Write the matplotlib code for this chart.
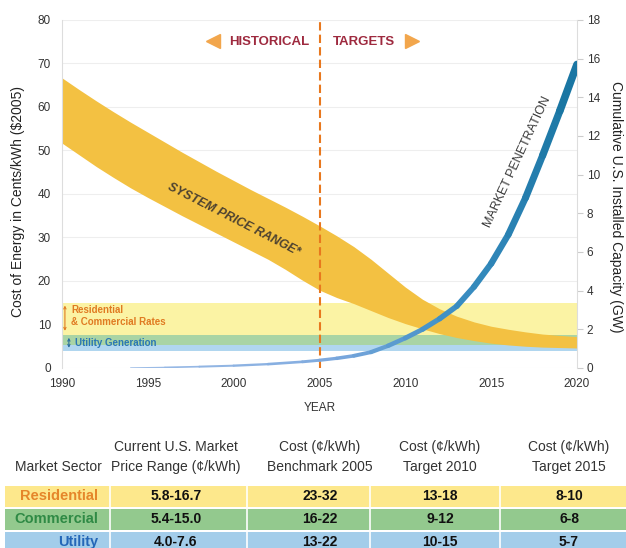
import numpy as np
import matplotlib
matplotlib.use("Agg")
import matplotlib.pyplot as plt
from matplotlib.collections import LineCollection
from matplotlib.colors import LinearSegmentedColormap
from matplotlib.patches import Rectangle

plt.rcParams["font.family"] = ["Liberation Sans Narrow", "Liberation Sans", "DejaVu Sans"]

W, H = 626, 548

# system price range, cents/kWh ($2005)
price_years = list(range(1990, 2021))
price_high = [66.7, 64.0, 61.4, 58.9, 56.5, 54.2, 51.9, 49.6, 47.4, 45.2,
              43.1, 41.0, 39.0, 37.0, 34.9, 32.7, 30.4, 27.9, 25.0, 21.8,
              18.6, 15.8, 13.6, 11.9, 10.6, 9.6, 8.9, 8.3, 7.8, 7.5, 7.2]
price_low = [51.7, 49.0, 46.3, 43.8, 41.4, 39.2, 37.1, 35.0, 33.0, 31.0,
             29.0, 27.0, 25.0, 22.7, 20.2, 17.9, 16.2, 14.8, 13.2, 11.6,
             10.2, 9.0, 7.9, 7.0, 6.3, 5.7, 5.3, 5.0, 4.8, 4.7, 4.6]

# retail rate bands, cents/kWh
res_com_rates = (5.4, 15.0)
utility_rates = (4.0, 7.6)

# cumulative installed capacity, GW
mp_years = [1994, 1996, 1998, 2000, 2002, 2004, 2005, 2006, 2007, 2008, 2009,
            2010, 2011, 2012, 2013, 2014, 2015, 2016, 2017, 2018, 2019, 2020]
mp_gw = [0.0, 0.03, 0.07, 0.12, 0.2, 0.32, 0.4, 0.5, 0.63, 0.82, 1.15,
         1.55, 2.0, 2.55, 3.2, 4.2, 5.4, 6.9, 8.8, 11.0, 13.3, 15.7]

# table below the chart
table_head1 = ["", "Current U.S. Market", "Cost (¢/kWh)", "Cost (¢/kWh)", "Cost (¢/kWh)"]
table_head2 = ["Market Sector", "Price Range (¢/kWh)", "Benchmark 2005", "Target 2010", "Target 2015"]
sectors = ["Residential", "Commercial", "Utility"]
market_range = ["5.8-16.7", "5.4-15.0", "4.0-7.6"]
bench_2005 = ["23-32", "16-22", "13-22"]
target_2010 = ["13-18", "9-12", "10-15"]
target_2015 = ["8-10", "6-8", "5-7"]

sector_text = ["#e5862a", "#2f8a45", "#2467b8"]
sector_fill = ["#fde88c", "#93c98e", "#a3cdea"]


def fx(x):
    return x / W


def fy(y):
    return 1 - y / H


fig = plt.figure(figsize=(W / 100, H / 100), dpi=100)
ax = fig.add_axes([fx(62), fy(368), (577 - 62) / W, (368 - 20) / H])
ax.set_xlim(1990, 2020)
ax.set_ylim(0, 80)

# rate bands
ax.axhspan(utility_rates[1], res_com_rates[1], color="#fbf3a4", lw=0, zorder=1)
ax.axhspan(res_com_rates[0], utility_rates[1], color="#a9d4a4", lw=0, zorder=1)
ax.axhspan(utility_rates[0], res_com_rates[0], color="#b0d6ef", lw=0, zorder=1)

ax.annotate("", xy=(1990.17, res_com_rates[1]), xytext=(1990.17, utility_rates[1] + 0.3),
            arrowprops=dict(arrowstyle="<->", color="#e07b22", lw=0.8, mutation_scale=4),
            zorder=3)
ax.annotate("", xy=(1990.4, utility_rates[1]), xytext=(1990.4, utility_rates[0]),
            arrowprops=dict(arrowstyle="<->", color="#2a6f9f", lw=0.8, mutation_scale=4),
            zorder=3)
ax.text(1990.55, 13.3, "Residential", color="#e07b22", fontsize=7, fontweight="bold",
        va="center", ha="left", zorder=3)
ax.text(1990.55, 10.6, "& Commercial Rates", color="#e07b22", fontsize=7, fontweight="bold",
        va="center", ha="left", zorder=3)
ax.text(1990.75, 5.8, "Utility Generation", color="#2a77b5", fontsize=7, fontweight="bold",
        va="center", ha="left", zorder=3)

# system price range
ax.fill_between(price_years, price_low, price_high, color="#f3c142", lw=0, zorder=2)

ax.set_yticks(range(0, 81, 10))
ax.grid(axis="y", color="#eeeeee", lw=0.8, zorder=0)
ax.set_axisbelow(True)
ax.set_xticks(range(1990, 2021, 5))
ax.tick_params(axis="both", length=0, labelsize=8.5, labelcolor="#333333")
ax.tick_params(axis="x", pad=7)
ax.tick_params(axis="y", pad=8)
for side in ("top", "bottom", "right"):
    ax.spines[side].set_visible(False)
ax.spines["left"].set_color("#dddddd")

# 2005 divider
ax.axvline(2005, color="#e8781e", lw=1.5, ls=(0, (4, 2)), zorder=4)

# market penetration on the right axis
ax2 = ax.twinx()
ax2.set_ylim(0, 18)
ax2.set_yticks(range(0, 19, 2))
ax2.tick_params(axis="y", length=4, color="#cccccc", labelsize=8.5, labelcolor="#333333", pad=3)
for side in ("top", "bottom", "left"):
    ax2.spines[side].set_visible(False)
ax2.spines["right"].set_color("#dddddd")

pts = np.column_stack([mp_years, mp_gw]).reshape(-1, 1, 2)
segs = np.concatenate([pts[:-1], pts[1:]], axis=1)
cmap = LinearSegmentedColormap.from_list("pen", ["#9bbbe6", "#7aa7dd", "#3c8fc4", "#1a76a3"])
lc = LineCollection(segs, cmap=cmap, linewidths=np.linspace(1.0, 5.5, len(segs)),
                    capstyle="round", zorder=5)
lc.set_array(np.linspace(0, 1, len(segs)))
ax2.add_collection(lc)

# chart labels
fig.text(fx(18), fy(202), "Cost of Energy in Cents/kWh ($2005)", rotation=90,
         ha="center", va="center", fontsize=10, color="#222222")
fig.text(fx(616), fy(207), "Cumulative U.S. Installed Capacity (GW)", rotation=-90,
         ha="center", va="center", fontsize=10, color="#222222")
fig.text(fx(320), fy(408), "YEAR", ha="center", va="center", fontsize=8.5, color="#333333")

fig.text(fx(269), fy(42), "HISTORICAL", ha="center", va="center", fontsize=9.5,
         fontweight="bold", color="#9e2a3f")
fig.text(fx(364), fy(42), "TARGETS", ha="center", va="center", fontsize=9.5,
         fontweight="bold", color="#9e2a3f")
fig.lines.append(plt.Line2D([fx(213)], [fy(41)], marker="<", ms=10, color="#f2a64c",
                            transform=fig.transFigure))
fig.lines.append(plt.Line2D([fx(412)], [fy(41)], marker=">", ms=10, color="#f2a64c",
                            transform=fig.transFigure))

fig.text(fx(234), fy(220), "SYSTEM PRICE RANGE*", rotation=-27, rotation_mode="anchor",
         ha="center", va="center", fontsize=9, fontstyle="italic", fontweight="bold",
         color="#4d4230")
fig.text(fx(517), fy(162), "MARKET PENETRATION", rotation=65, rotation_mode="anchor",
         ha="center", va="center", fontsize=9, color="#3a3a3a")

# table
row_tops = [486, 509, 532]
row_h = [21, 21, 24]
col_edges = [0, 110, 247, 370, 500, W]
col_centers = [58, 176, 320, 440, 569]
for i, top in enumerate(row_tops):
    fig.add_artist(Rectangle((fx(5), fy(top + row_h[i])), (W - 5) / W, row_h[i] / H,
                             transform=fig.transFigure, color=sector_fill[i], lw=0))
for xe in col_edges[1:-1]:
    fig.add_artist(plt.Line2D([fx(xe), fx(xe)], [fy(486), fy(H)], color="white", lw=1.2,
                              transform=fig.transFigure))

for c in range(5):
    fig.text(fx(col_centers[c]), fy(447), table_head1[c], ha="center", va="center",
             fontsize=10, color="#333333")
    fig.text(fx(col_centers[c]), fy(467), table_head2[c], ha="center", va="center",
             fontsize=10, color="#333333")

for i in range(len(sectors)):
    cy = fy(row_tops[i] + 10)
    fig.text(fx(98), cy, sectors[i], ha="right", va="center", fontsize=10.5,
             fontweight="bold", color=sector_text[i])
    for c, col in enumerate([market_range, bench_2005, target_2010, target_2015], start=1):
        fig.text(fx(col_centers[c]), cy, col[i], ha="center", va="center", fontsize=10,
                 fontweight="bold", color="#111111")

fig.savefig("out.png", dpi=100)
